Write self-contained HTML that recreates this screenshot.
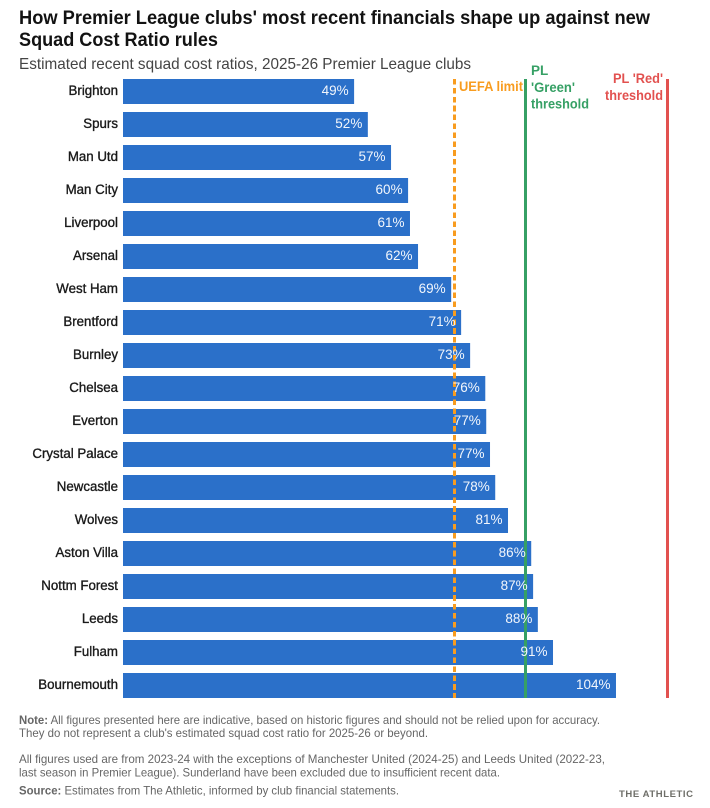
<!DOCTYPE html>
<html lang="en">
<head>
<meta charset="utf-8">
<title>Premier League Squad Cost Ratios</title>
<style>
html,body{margin:0;padding:0;background:#fff;}
svg{display:block;font-family:"Liberation Sans",sans-serif;}
</style>
</head>
<body>
<svg id="chart" width="710" height="808" viewBox="0 0 710 808" xmlns="http://www.w3.org/2000/svg">
  <rect width="710" height="808" fill="#fff"/>
  <text x="19" y="24" font-size="19" font-weight="700" fill="#121212" textLength="631" lengthAdjust="spacingAndGlyphs">How Premier League clubs' most recent financials shape up against new</text>
  <text x="19" y="46" font-size="19" font-weight="700" fill="#121212" textLength="199" lengthAdjust="spacingAndGlyphs">Squad Cost Ratio rules</text>
  <text x="19" y="69" font-size="16" fill="#444" textLength="452" lengthAdjust="spacingAndGlyphs">Estimated recent squad cost ratios, 2025-26 Premier League clubs</text>
  <g id="bars"></g>
  <g id="lines"></g>
  <g id="values"></g>
  <g id="cats"></g>
  <g font-size="13.5" font-weight="700">
    <text x="459" y="91" fill="#f89c1f" textLength="64" lengthAdjust="spacingAndGlyphs">UEFA limit</text>
    <text x="531" y="75" fill="#36a065">PL</text>
    <text x="531" y="92" fill="#36a065" textLength="44" lengthAdjust="spacingAndGlyphs">'Green'</text>
    <text x="531" y="108.5" fill="#36a065" textLength="58" lengthAdjust="spacingAndGlyphs">threshold</text>
    <text x="613" y="83" fill="#e2514f" textLength="50" lengthAdjust="spacingAndGlyphs">PL 'Red'</text>
    <text x="605" y="100" fill="#e2514f" textLength="58" lengthAdjust="spacingAndGlyphs">threshold</text>
  </g>
  <g font-size="12" fill="#666">
    <text x="19" y="724" textLength="581" lengthAdjust="spacingAndGlyphs"><tspan font-weight="700">Note:</tspan> All figures presented here are indicative, based on historic figures and should not be relied upon for accuracy.</text>
    <text x="19" y="737" textLength="409" lengthAdjust="spacingAndGlyphs">They do not represent a club's estimated squad cost ratio for 2025-26 or beyond.</text>
    <text x="19" y="763" textLength="586" lengthAdjust="spacingAndGlyphs">All figures used are from 2023-24 with the exceptions of Manchester United (2024-25) and Leeds United (2022-23,</text>
    <text x="19" y="776.5" textLength="481" lengthAdjust="spacingAndGlyphs">last season in Premier League). Sunderland have been excluded due to insufficient recent data.</text>
    <text x="19" y="794.5" textLength="380" lengthAdjust="spacingAndGlyphs"><tspan font-weight="700">Source:</tspan> Estimates from The Athletic, informed by club financial statements.</text>
  </g>
  <text x="619" y="797" font-size="9.5" font-weight="700" fill="#6e6e68" textLength="74" lengthAdjust="spacing">THE ATHLETIC</text>
</svg>
<script>
const clubs = ["Brighton","Spurs","Man Utd","Man City","Liverpool","Arsenal","West Ham","Brentford","Burnley","Chelsea","Everton","Crystal Palace","Newcastle","Wolves","Aston Villa","Nottm Forest","Leeds","Fulham","Bournemouth"];
const ratios = [48.8,51.7,56.6,60.2,60.6,62.3,69.3,71.4,73.3,76.5,76.7,77.5,78.6,81.3,86.2,86.6,87.6,90.8,104.1];
const valueLabels = ["49%","52%","57%","60%","61%","62%","69%","71%","73%","76%","77%","77%","78%","81%","86%","87%","88%","91%","104%"];
const uefaLimit = 70;
const greenThreshold = 85;
const redThreshold = 115;

const NS = "http://www.w3.org/2000/svg";
const plotLeft = 123, pxPerUnit = 4.7357, plotTop = 79, rowStep = 33, barHeight = 25;
function xScale(v){ return plotLeft + v * pxPerUnit; }
function yScale(i){ return plotTop + i * rowStep; }
function make(tag, attrs){
  const el = document.createElementNS(NS, tag);
  for (const k in attrs) el.setAttribute(k, attrs[k]);
  return el;
}
const barsG = document.getElementById("bars");
const valuesG = document.getElementById("values");
const catsG = document.getElementById("cats");
const linesG = document.getElementById("lines");

clubs.forEach(function(name, i){
  const slug = name.toLowerCase().replace(/[^a-z]+/g, "-");
  const bar = make("rect", {x: plotLeft, y: yScale(i), width: xScale(ratios[i]) - plotLeft, height: barHeight, fill: "#2b70c9"});
  
  
  barsG.appendChild(bar);

  const val = make("text", {x: xScale(ratios[i]) - 5.5, y: yScale(i) + 16, "text-anchor": "end", "font-size": 13.5, fill: "#f2f6fc"});
  val.textContent = valueLabels[i];
  
  
  valuesG.appendChild(val);

  const cat = make("text", {transform: "translate(118," + (yScale(i) + 15.8) + ") scale(0.985,1)", "text-anchor": "end", "font-size": 13.5, fill: "#1a1a1a", stroke: "#1a1a1a", "stroke-width": 0.35});
  cat.textContent = name;
  
  
  catsG.appendChild(cat);
});

const lineBottom = yScale(clubs.length - 1) + barHeight;
const uefaLine = make("line", {x1: xScale(uefaLimit), x2: xScale(uefaLimit), y1: plotTop, y2: lineBottom, stroke: "#f89c1f", "stroke-width": 3, "stroke-dasharray": "5.6 3.3", "shape-rendering": "crispEdges"});


linesG.appendChild(uefaLine);

const greenLine = make("line", {x1: xScale(greenThreshold), x2: xScale(greenThreshold), y1: plotTop, y2: lineBottom, stroke: "#36a065", "stroke-width": 3, "shape-rendering": "crispEdges"});


linesG.appendChild(greenLine);

const redLine = make("line", {x1: xScale(redThreshold), x2: xScale(redThreshold), y1: plotTop, y2: lineBottom, stroke: "#e2514f", "stroke-width": 3, "shape-rendering": "crispEdges"});


linesG.appendChild(redLine);
</script>
</body>
</html>
